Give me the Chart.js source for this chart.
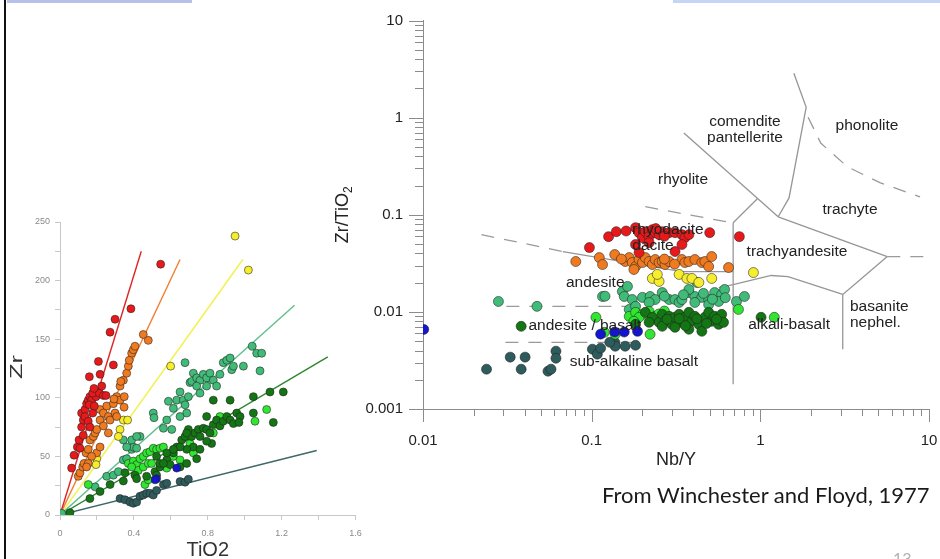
<!DOCTYPE html>
<html><head><meta charset="utf-8">
<script src="https://cdn.jsdelivr.net/npm/chart.js@4.4.1/dist/chart.umd.min.js"></script>
<style>
html,body{margin:0;padding:0;background:#fff;width:940px;height:559px;overflow:hidden;}
#wrap{position:relative;width:940px;height:559px;}
canvas{position:absolute;left:0;top:0;}
.bar{position:absolute;top:0;height:3px;}
#border{position:absolute;left:4px;top:0;width:2px;height:559px;background:#111;}
#src{position:absolute;left:602px;top:484px;font-family:Lato,sans-serif;font-size:21px;line-height:21px;color:#1a1a1a;white-space:nowrap;transform-origin:0 0;}
#pg{position:absolute;left:893px;top:550px;font-family:Lato,sans-serif;font-size:16px;line-height:16px;color:#b0b0b0;}
</style></head>
<body><div id="wrap">
<div class="bar" style="left:7px;width:185px;background:#b9c0e8"></div>
<div class="bar" style="left:673px;width:267px;background:#c4d5f5"></div>
<div id="border"></div>
<canvas id="left" width="940" height="559"></canvas>
<canvas id="right" width="940" height="559"></canvas>
<div id="src">From Winchester and Floyd, 1977</div>
<div id="pg">13</div>
</div>
<script>
// ---------------- LEFT CHART DATA: [TiO2, Zr] ----------------
const leftRed = [[0.063,40],[0.076,51],[0.094,58],[0.103,64],[0.117,75],[0.126,81],[0.117,87],[0.135,90],[0.144,95],[0.153,98],[0.162,101],[0.171,98],[0.159,94],[0.135,84],[0.153,80],[0.162,75],[0.177,87],[0.186,93],[0.195,101],[0.177,104],[0.213,104],[0.226,110],[0.235,102],[0.217,120],[0.159,118],[0.208,131],[0.289,128],[0.298,167],[0.271,156],[0.384,176],[0.545,214],[0.108,57],[0.126,68],[0.184,108],[0.249,102]];
const leftOrange = [[0.099,33],[0.108,36],[0.123,41],[0.130,44],[0.141,53],[0.153,56],[0.162,64],[0.181,67],[0.190,70],[0.199,73],[0.217,81],[0.217,90],[0.235,87],[0.253,93],[0.262,84],[0.271,81],[0.289,95],[0.307,101],[0.325,110],[0.343,115],[0.298,87],[0.325,98],[0.348,101],[0.361,121],[0.370,127],[0.388,138],[0.397,141],[0.406,144],[0.451,154],[0.478,149],[0.199,53],[0.217,58],[0.171,50],[0.153,44],[0.307,84],[0.347,92],[0.329,114],[0.375,132],[0.144,41],[0.235,76],[0.262,70],[0.292,99]];
const leftYellow = [[0.948,238],[1.02,209],[0.599,127],[0.343,81],[0.366,81],[0.325,73],[0.316,67],[0.199,48],[0.195,43]];
const leftLightGreen = [[0.009,1.4],[0.190,24],[0.253,33],[0.289,34],[0.316,37],[0.343,47],[0.361,48],[0.388,56],[0.397,58],[0.415,57],[0.433,67],[0.388,64],[0.343,64],[0.505,87],[0.509,83],[0.587,97],[0.560,74],[0.578,81],[0.614,91],[0.632,98],[0.650,105],[0.668,98],[0.677,130],[0.686,87],[0.695,101],[0.704,113],[0.713,114],[0.722,121],[0.740,117],[0.758,115],[0.776,120],[0.794,117],[0.812,121],[0.830,115],[0.848,110],[0.866,120],[0.884,130],[0.903,132],[0.921,134],[0.930,124],[0.939,127],[0.993,127],[1.041,144],[1.065,138],[1.092,138],[1.083,123],[0.794,110],[0.740,110],[0.677,94],[0.650,84],[0.758,104],[0.605,73],[0.415,67],[0.361,58]];
const leftBrightGreen = [[0.153,26],[0.370,44],[0.397,46],[0.415,43],[0.433,48],[0.451,50],[0.469,53],[0.487,54],[0.505,57],[0.523,56],[0.541,57],[0.560,58],[0.424,38],[0.451,41],[0.478,44],[0.460,26],[0.478,30],[0.578,40],[0.614,50],[0.650,47],[0.704,61],[0.722,53],[0.866,84],[1.056,80],[1.119,90],[0.830,70],[0.388,41],[0.496,44]];
const leftDarkGreen = [[0.054,2],[0.162,14],[0.217,20],[0.271,26],[0.343,29],[0.352,36],[0.406,34],[0.469,33],[0.514,37],[0.541,41],[0.578,47],[0.614,53],[0.632,58],[0.659,64],[0.677,67],[0.695,73],[0.713,67],[0.731,70],[0.749,73],[0.758,67],[0.776,74],[0.794,73],[0.812,70],[0.830,77],[0.848,81],[0.866,76],[0.884,80],[0.903,84],[0.921,81],[0.939,78],[0.957,87],[0.975,84],[0.821,61],[0.794,63],[0.722,58],[0.686,56],[0.650,58],[0.578,53],[0.523,50],[0.541,44],[0.596,43],[0.650,41],[0.686,44],[0.740,48],[0.758,56],[0.921,98],[0.830,98],[1.047,101],[1.047,87],[1.137,105],[1.209,105],[1.155,79],[0.415,31],[0.523,34],[0.560,44],[0.794,84],[0.686,70],[0.969,79],[0.614,56]];
const leftBlue = [[0.523,31],[0.632,40],[0.515,30]];
const leftSlate = [[0.325,14],[0.352,13],[0.379,11],[0.397,10],[0.415,11],[0.433,16],[0.451,17],[0.469,18.5],[0.487,18.5],[0.505,17],[0.523,21],[0.560,26],[0.578,27],[0.650,28.5],[0.677,28],[0.695,30.5]];
// fitted lines through origin
const fitRed = [[0,0],[0.44,225]];
const fitOrange = [[0,0],[0.65,218]];
const fitYellow = [[0,0],[0.99,218]];
const fitLightGreen = [[0,0],[1.27,179]];
const fitDarkGreen = [[0,0],[1.45,135]];
const fitSlate = [[0,0],[1.39,55]];
const leftXLabelTicks = [0, 0.4, 0.8, 1.2, 1.6];
const leftYLabelTicks = [0, 50, 100, 150, 200, 250];

// ---------------- RIGHT CHART DATA: [Nb/Y, Zr/TiO2] ----------------
const rightRed = [[0.126,0.0595],[0.140,0.0669],[0.097,0.0459],[0.182,0.0736],[0.191,0.0654],[0.200,0.0581],[0.208,0.0669],[0.219,0.0595],[0.229,0.0702],[0.238,0.0654],[0.251,0.0624],[0.262,0.0669],[0.288,0.0654],[0.312,0.0654],[0.343,0.0624],[0.357,0.0581],[0.377,0.0624],[0.501,0.0654],[0.751,0.0595],[0.343,0.0493],[0.312,0.0418],[0.182,0.0493],[0.191,0.0408],[0.219,0.0516],[0.240,0.0720],[0.270,0.0600],[0.160,0.0680]];
const rightOrange = [[0.0805,0.0330],[0.111,0.0362],[0.116,0.0307],[0.137,0.0389],[0.158,0.0330],[0.167,0.0362],[0.174,0.0322],[0.182,0.0293],[0.178,0.0273],[0.191,0.0346],[0.200,0.0322],[0.208,0.0362],[0.219,0.0330],[0.229,0.0307],[0.238,0.0346],[0.251,0.0322],[0.262,0.0330],[0.272,0.0307],[0.288,0.0330],[0.343,0.0346],[0.357,0.0322],[0.377,0.0330],[0.409,0.0346],[0.450,0.0322],[0.469,0.0330],[0.515,0.0371],[0.648,0.0286],[0.494,0.0293],[0.150,0.0350],[0.270,0.0350],[0.310,0.0310]];
const rightYellow = [[0.229,0.0221],[0.251,0.0206],[0.245,0.0243],[0.330,0.0243],[0.367,0.0221],[0.393,0.0221],[0.432,0.0201],[0.515,0.0221],[0.910,0.0254]];
const rightLightGreen = [[0.0280,0.0128],[0.0474,0.0114],[0.116,0.0144],[0.152,0.0162],[0.156,0.0144],[0.163,0.0183],[0.174,0.0134],[0.200,0.0141],[0.222,0.0144],[0.238,0.0134],[0.262,0.0158],[0.288,0.0134],[0.312,0.0134],[0.330,0.0125],[0.343,0.0134],[0.377,0.0158],[0.409,0.0144],[0.450,0.0141],[0.494,0.0134],[0.536,0.0158],[0.590,0.0151],[0.614,0.0170],[0.722,0.0128],[0.805,0.0144],[0.420,0.0201],[0.377,0.0170],[0.167,0.0106],[0.182,0.0114],[0.219,0.0125],[0.409,0.0125],[0.494,0.0119],[0.566,0.0128],[0.120,0.0145],[0.270,0.0145],[0.350,0.0150],[0.460,0.0155],[0.520,0.0135],[0.620,0.0140]];
const rightBrightGreen = [[0.106,0.00879],[0.119,0.00616],[0.138,0.00588],[0.167,0.00899],[0.182,0.00989],[0.200,0.00943],[0.219,0.0101],[0.229,0.00838],[0.191,0.00879],[0.238,0.00899],[0.222,0.00588],[0.742,0.0106],[1.21,0.00879],[0.178,0.0080],[0.250,0.0095],[0.270,0.0102]];
const rightDarkGreen = [[0.0382,0.00710],[0.208,0.00989],[0.229,0.00879],[0.251,0.00780],[0.262,0.00943],[0.272,0.0080],[0.288,0.00899],[0.299,0.00744],[0.312,0.00879],[0.330,0.00943],[0.343,0.00780],[0.357,0.00879],[0.377,0.00989],[0.393,0.0080],[0.409,0.00899],[0.432,0.00744],[0.450,0.00631],[0.469,0.00879],[0.494,0.00989],[0.515,0.0080],[0.536,0.00899],[0.566,0.00744],[0.590,0.00943],[0.605,0.00780],[0.312,0.00693],[0.377,0.00662],[0.262,0.00710],[0.219,0.00780],[1.01,0.00879],[0.182,0.00744],[0.330,0.0085],[0.420,0.0085],[0.480,0.0076],[0.550,0.0084],[0.280,0.0084],[0.360,0.0072]];
const rightBlue = [[0.0101,0.0066],[0.113,0.0059],[0.137,0.0062],[0.156,0.0062],[0.187,0.0063]];
const rightSlate = [[0.0238,0.00257],[0.0329,0.00342],[0.0403,0.00342],[0.0382,0.00257],[0.0551,0.00245],[0.0574,0.00257],[0.0614,0.00394],[0.0614,0.00333],[0.101,0.00413],[0.108,0.00367],[0.113,0.00423],[0.137,0.00486],[0.138,0.00443],[0.158,0.00443],[0.182,0.00453],[0.128,0.00486]];
// field boundaries (solid)
const bVertical = [[0.69,0.0828],[0.69,0.0018]];
const bRhyDac = [[0.69,0.0828],[0.96,0.146]];
const bComendite = [[0.352,0.693],[1.276,0.0953]];
const bTrachyte = [[1.276,0.0953],[1.48,0.149],[1.87,1.28],[1.58,2.86]];
const bTrachyBase = [[1.276,0.0953],[5.66,0.0371]];
const bBasanite = [[5.66,0.0371],[3.08,0.0151],[3.08,0.00413]];
const bAlkali = [[3.08,0.0151],[1.46,0.0231],[1.16,0.0237],[0.69,0.0191],[0.566,0.0178]];
const bAndesite = [[0.0675,0.0418],[0.343,0.026],[0.69,0.026]];
// field boundaries (dashed)
const dAndesiteExt = [[0.0222,0.0624],[0.0675,0.0418]];
const dRhyolite = [[0.208,0.121],[0.675,0.0828]];
const dAndBasalt = [[0.0312,0.0114],[0.200,0.0114]];
const dSubAlk = [[0.0308,0.00486],[0.191,0.00486]];
const dPhonolite = [[1.92,1.01],[2.28,0.547],[3.29,0.311],[5.15,0.213],[8.85,0.153]];
const dBasaniteExt = [[5.66,0.0371],[9.73,0.0371]];
// field names and their positions (data coords)
const fieldNames = ['comendite','pantellerite','phonolite','rhyolite','trachyte','rhyodacite','dacite','trachyandesite','andesite','basanite','nephel.','andesite / basalt','alkali-basalt','sub-alkaline basalt'];
const fieldX = [0.811,0.811,4.29,0.348,3.40,0.283,0.231,1.65,0.105,3.40,3.40,0.0912,1.48,0.178];
const fieldY = [0.903,0.618,0.822,0.228,0.112,0.0697,0.0477,0.0414,0.0199,0.0112,0.00769,0.00716,0.00733,0.00305];
const rightXLabelTicks = [0.01, 0.1, 1, 10];
const rightYLabelTicks = [0.001, 0.01, 0.1, 1, 10];

// ---------------- helpers ----------------
Chart.defaults.font.family = "'Liberation Sans', Arial, sans-serif";
const FONT = "'Liberation Sans', Arial, sans-serif";
const xy = a => a.map(p => ({x:p[0], y:p[1]}));
function pts(arr, color, r, order){
  return {data: xy(arr), backgroundColor: color, borderColor: 'rgba(35,35,35,0.8)', borderWidth: 0.7,
          pointRadius: r, pointHoverRadius: r, showLine: false, order};
}
function ln(arr, color, w, dash){
  return {data: xy(arr), borderColor: color, backgroundColor: color, borderWidth: w, borderDash: dash || [],
          pointRadius: 0, pointHoverRadius: 0, showLine: true, fill: false, tension: 0, order: 50};
}
const near = (v, list) => list.some(t => Math.abs(t - v) < 1e-9 * Math.max(1, Math.abs(t)));

// ---------------- LEFT CHART ----------------
const leftPlugin = {
  id: 'leftTitles',
  afterDraw(chart){
    const ctx = chart.ctx, a = chart.chartArea;
    ctx.save();
    ctx.fillStyle = '#333';
    ctx.textAlign = 'center'; ctx.textBaseline = 'middle';
    ctx.font = '20px ' + FONT;
    ctx.fillText('TiO2', (a.left + a.right) / 2, 550);
    ctx.translate(17, 367); ctx.rotate(-Math.PI / 2); ctx.scale(1.5, 1);
    ctx.font = '17px ' + FONT;
    ctx.fillText('Zr', 0, 0);
    ctx.restore();
  }
};
new Chart(document.getElementById('left'), {
  type: 'scatter',
  data: { datasets: [
    pts(leftRed, '#e8191b', 4, 1),
    pts(leftOrange, '#f07a1f', 4, 2),
    pts(leftYellow, '#f6ee2c', 4, 3),
    pts(leftBlue, '#1515d0', 4, 4),
    pts(leftSlate, '#2e5b5b', 4, 5),
    pts(leftDarkGreen, '#137513', 4, 6),
    pts(leftBrightGreen, '#30e630', 4, 7),
    pts(leftLightGreen, '#40bb78', 4, 8),
    ln(fitRed, '#e02424', 1.4), ln(fitOrange, '#ef7f33', 1.4), ln(fitYellow, '#f3f155', 1.6),
    ln(fitLightGreen, '#5dbf8e', 1.4), ln(fitDarkGreen, '#2c872c', 1.4), ln(fitSlate, '#3e6767', 1.4)
  ]},
  options: {
    responsive: false, animation: false, events: [],
    layout: { padding: { left: 0, top: 222, right: 584.5, bottom: 0 } },
    plugins: { legend: { display: false }, tooltip: { enabled: false } },
    scales: {
      x: { type: 'linear', min: 0, max: 1.6,
        ticks: { stepSize: 0.2, autoSkip: false, maxRotation: 0, padding: 8, color: '#8a8a8a', font: { size: 9 },
          callback: v => near(v, leftXLabelTicks) ? String(+v.toFixed(1)) : '' },
        grid: { drawOnChartArea: false, color: '#c8c8c8', tickLength: 5 },
        border: { color: '#c8c8c8' },
        afterFit: s => { s.height = 44; s.paddingLeft = 0; s.paddingRight = 0; } },
      y: { type: 'linear', min: 0, max: 250,
        ticks: { stepSize: 25, autoSkip: false, padding: 5, color: '#8a8a8a', font: { size: 9 },
          callback: v => near(v, leftYLabelTicks) ? String(v) : '' },
        grid: { drawOnChartArea: false, color: '#c8c8c8', tickLength: 5 },
        border: { color: '#c8c8c8' },
        afterFit: s => { s.width = 60; s.paddingTop = 0; s.paddingBottom = 0; } }
    }
  },
  plugins: [leftPlugin]
});

// ---------------- RIGHT CHART ----------------
const rightPlugin = {
  id: 'rightDecor',
  afterDatasetsDraw(chart){
    const ctx = chart.ctx, xs = chart.scales.x, ys = chart.scales.y;
    ctx.save();
    ctx.fillStyle = '#222';
    ctx.font = '15.5px ' + FONT;
    ctx.textBaseline = 'middle';
    fieldNames.forEach((name, i) => {
      const left = (name === 'basanite' || name === 'nephel.');
      ctx.textAlign = left ? 'left' : 'center';
      ctx.fillText(name, xs.getPixelForValue(fieldX[i]), ys.getPixelForValue(fieldY[i]));
    });
    ctx.restore();
  },
  afterDraw(chart){
    const ctx = chart.ctx, xs = chart.scales.x, ys = chart.scales.y, a = chart.chartArea;
    ctx.save();
    ctx.strokeStyle = '#8c8c8c'; ctx.lineWidth = 1;
    ctx.beginPath();
    rightYLabelTicks.forEach((d, i) => {
      const last = i === rightYLabelTicks.length - 1;
      for (let k = 1; k <= (last ? 1 : 9); k++) {
        const py = Math.round(ys.getPixelForValue(d * k)) + 0.5;
        const len = k === 1 ? 14 : 8;
        ctx.moveTo(a.left - len, py); ctx.lineTo(a.left, py);
      }
    });
    rightXLabelTicks.forEach((d, i) => {
      const last = i === rightXLabelTicks.length - 1;
      for (let k = 1; k <= (last ? 1 : 9); k++) {
        const px = Math.round(xs.getPixelForValue(d * k)) + 0.5;
        const len = k === 1 ? 13 : 7;
        ctx.moveTo(px, a.bottom); ctx.lineTo(px, a.bottom + len);
      }
    });
    ctx.stroke();
    // axis titles
    ctx.fillStyle = '#222';
    ctx.textAlign = 'center'; ctx.textBaseline = 'middle';
    ctx.font = '18px ' + FONT;
    ctx.fillText('Nb/Y', (a.left + a.right) / 2, 460);
    ctx.translate(343, (a.top + a.bottom) / 2); ctx.rotate(-Math.PI / 2);
    ctx.font = '18px ' + FONT;
    const w1 = ctx.measureText('Zr/TiO').width;
    ctx.font = '12px ' + FONT;
    const w2 = ctx.measureText('2').width;
    const x0 = -(w1 + w2) / 2;
    ctx.textAlign = 'left';
    ctx.font = '18px ' + FONT;
    ctx.fillText('Zr/TiO', x0, 0);
    ctx.font = '12px ' + FONT;
    ctx.fillText('2', x0 + w1, 6);
    ctx.restore();
  }
};
const solid = '#969696', dashC = '#9a9a9a', DASH = [13, 10];
new Chart(document.getElementById('right'), {
  type: 'scatter',
  data: { datasets: [
    pts(rightRed, '#e8191b', 5, 1),
    pts(rightYellow, '#f6ee2c', 5, 2),
    pts(rightOrange, '#f07a1f', 5, 3),
    pts(rightBlue, '#1515d0', 5, 4),
    pts(rightDarkGreen, '#137513', 5, 5),
    pts(rightBrightGreen, '#30e630', 5, 6),
    pts(rightSlate, '#2e5b5b', 5, 7),
    pts(rightLightGreen, '#40bb78', 5, 8),
    ln(bVertical, solid, 1.3), ln(bRhyDac, solid, 1.3), ln(bComendite, solid, 1.3), ln(bTrachyte, solid, 1.3),
    ln(bTrachyBase, solid, 1.3), ln(bBasanite, solid, 1.3), ln(bAlkali, solid, 1.3), ln(bAndesite, solid, 1.3),
    ln(dAndesiteExt, dashC, 1.3, DASH), ln(dRhyolite, dashC, 1.3, DASH), ln(dAndBasalt, dashC, 1.3, DASH),
    ln(dSubAlk, dashC, 1.3, DASH), ln(dPhonolite, dashC, 1.3, DASH), ln(dBasaniteExt, dashC, 1.3, DASH)
  ]},
  options: {
    responsive: false, animation: false, events: [],
    layout: { padding: { left: 0, top: 20.5, right: 11, bottom: 0 } },
    plugins: { legend: { display: false }, tooltip: { enabled: false } },
    scales: {
      x: { type: 'logarithmic', min: 0.01, max: 10,
        afterBuildTicks: s => { s.ticks = rightXLabelTicks.map(v => ({ value: v })); },
        ticks: { autoSkip: false, maxRotation: 0, padding: 23, color: '#222', font: { size: 15 },
          callback: v => String(v) },
        grid: { drawOnChartArea: false, drawTicks: false },
        border: { color: '#8c8c8c' },
        afterFit: s => { s.height = 150; s.paddingLeft = 0; s.paddingRight = 0; } },
      y: { type: 'logarithmic', min: 0.001, max: 10,
        afterBuildTicks: s => { s.ticks = rightYLabelTicks.map(v => ({ value: v })); },
        ticks: { autoSkip: false, padding: 20, color: '#222', font: { size: 15 },
          callback: v => String(v) },
        grid: { drawOnChartArea: false, drawTicks: false },
        border: { color: '#8c8c8c' },
        afterFit: s => { s.width = 423; s.paddingTop = 0; s.paddingBottom = 0; } }
    }
  },
  plugins: [rightPlugin]
});

// fit the citation line to its measured width in the slide
const src = document.getElementById('src');
const fitSrc = () => { src.style.transform = 'none'; src.style.transform = 'scaleX(' + (328 / src.offsetWidth) + ')'; };
fitSrc();
if (document.fonts && document.fonts.ready) document.fonts.ready.then(fitSrc);
</script>
</body></html>
